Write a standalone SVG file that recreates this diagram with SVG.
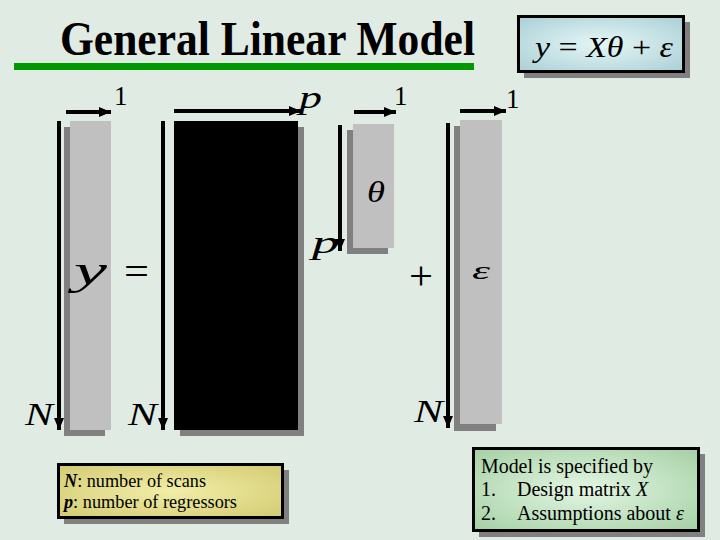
<svg xmlns="http://www.w3.org/2000/svg" width="720" height="540" viewBox="0 0 720 540">
<style>
.serif{font-family:"Liberation Serif","Times New Roman",serif;fill:#000}
.it{font-style:italic}
.light{fill:#c0c0c0}
.shadow{fill:#808080}
.arrow{stroke:#000;stroke-width:4;fill:none}
.box{stroke:#000;stroke-width:3}
</style>
<defs>
<marker id="ah" viewBox="0 0 12 10" refX="12" refY="5" markerWidth="12" markerHeight="10" markerUnits="userSpaceOnUse" orient="auto">
<path d="M0,0 L12,5 L0,10 Z" fill="#000"/>
</marker>
<radialGradient id="gBlue" cx="0.5" cy="0.5" r="0.7">
<stop offset="0" stop-color="#e6f6f6"/>
<stop offset="1" stop-color="#a9d0d6"/>
</radialGradient>
<radialGradient id="gYellow" cx="0.5" cy="0.5" r="0.7">
<stop offset="0" stop-color="#f2eea8"/>
<stop offset="1" stop-color="#d2ca72"/>
</radialGradient>
<radialGradient id="gGreen" cx="0.5" cy="0.5" r="0.7">
<stop offset="0" stop-color="#e4f6e4"/>
<stop offset="1" stop-color="#a4d0a4"/>
</radialGradient>
</defs>
<rect x="0" y="0" width="720" height="540" fill="#e0ebe3"/>

<g id="title">
<text class="serif" x="60" y="55" font-size="48" font-weight="bold" textLength="415" lengthAdjust="spacingAndGlyphs">General Linear Model</text>
<rect x="14" y="63" width="460" height="7" fill="#009a00"/>
</g>

<g id="formula">
<rect x="524" y="22" width="166" height="56" class="shadow"/>
<rect x="518.5" y="16.5" width="165" height="55" fill="url(#gBlue)" class="box"/>
<text class="serif" x="535" y="57" font-size="30" textLength="138" lengthAdjust="spacingAndGlyphs"><tspan class="it">y</tspan> = <tspan class="it">Xθ</tspan> + <tspan class="it">ε</tspan></text>
</g>

<g id="y-vector">
<rect x="64" y="127" width="41" height="309" class="shadow"/>
<rect x="70" y="121" width="41" height="309" class="light"/>
<text class="serif it" x="74" y="284" font-size="40" textLength="33" lengthAdjust="spacingAndGlyphs">y</text>
</g>

<g id="equals">
<text class="serif" x="124" y="284" font-size="38" textLength="25" lengthAdjust="spacingAndGlyphs">=</text>
</g>

<g id="X-matrix">
<rect x="180" y="127" width="124" height="309" class="shadow"/>
<rect x="174" y="121" width="124" height="309" fill="#000"/>
</g>

<g id="theta-vector">
<rect x="347" y="130" width="41" height="124" class="shadow"/>
<rect x="353" y="124" width="41" height="124" class="light"/>
<text class="serif it" x="367" y="202" font-size="29" textLength="18" lengthAdjust="spacingAndGlyphs">θ</text>
</g>

<g id="plus">
<text class="serif" x="409" y="289" font-size="40" textLength="24" lengthAdjust="spacingAndGlyphs">+</text>
</g>

<g id="epsilon-vector">
<rect x="454" y="126" width="42" height="305" class="shadow"/>
<rect x="460" y="120" width="42" height="304" class="light"/>
<text class="serif it" x="472" y="279" font-size="26" textLength="18" lengthAdjust="spacingAndGlyphs">ε</text>
</g>

<g id="connectors">
<line class="arrow" x1="59" y1="121" x2="59" y2="430" marker-end="url(#ah)"/>
<line class="arrow" x1="66" y1="112" x2="111" y2="112" marker-end="url(#ah)"/>
<line class="arrow" x1="163" y1="121" x2="163" y2="430" marker-end="url(#ah)"/>
<line class="arrow" x1="174" y1="111" x2="301" y2="111" marker-end="url(#ah)"/>
<line class="arrow" x1="340" y1="125" x2="340" y2="251" marker-end="url(#ah)"/>
<line class="arrow" x1="354" y1="112" x2="396" y2="112" marker-end="url(#ah)"/>
<line class="arrow" x1="448" y1="123" x2="448" y2="428" marker-end="url(#ah)"/>
<line class="arrow" x1="460" y1="111" x2="506" y2="111" marker-end="url(#ah)"/>
</g>

<g id="dimension-labels">
<text class="serif" x="114" y="105" font-size="27">1</text>
<text class="serif it" x="299" y="108" font-size="32" textLength="23" lengthAdjust="spacingAndGlyphs">p</text>
<text class="serif" x="394" y="105" font-size="27">1</text>
<text class="serif" x="506" y="108" font-size="27">1</text>
<text class="serif it" x="312" y="253" font-size="32" textLength="27" lengthAdjust="spacingAndGlyphs">p</text>
<text class="serif it" x="25" y="425" font-size="31" textLength="28" lengthAdjust="spacingAndGlyphs">N</text>
<text class="serif it" x="128" y="425" font-size="31" textLength="29" lengthAdjust="spacingAndGlyphs">N</text>
<text class="serif it" x="414" y="422" font-size="31" textLength="29" lengthAdjust="spacingAndGlyphs">N</text>
</g>

<g id="legend">
<rect x="64" y="470" width="225" height="54" class="shadow"/>
<rect x="58.5" y="464.5" width="224" height="53" fill="url(#gYellow)" class="box"/>
<text class="serif" x="64" y="487" font-size="18" textLength="142" lengthAdjust="spacingAndGlyphs"><tspan class="it" font-weight="bold">N</tspan>: number of scans</text>
<text class="serif" x="64" y="508" font-size="18" textLength="173" lengthAdjust="spacingAndGlyphs"><tspan class="it" font-weight="bold">p</tspan>: number of regressors</text>
</g>

<g id="model-note">
<rect x="479" y="454" width="226" height="83" class="shadow"/>
<rect x="473.5" y="448.5" width="225" height="82" fill="url(#gGreen)" class="box"/>
<text class="serif" x="481" y="473" font-size="20" textLength="172" lengthAdjust="spacingAndGlyphs">Model is specified by</text>
<text class="serif" x="481" y="496" font-size="20">1.</text>
<text class="serif" x="517" y="496" font-size="20">Design matrix <tspan class="it">X</tspan></text>
<text class="serif" x="481" y="520" font-size="20">2.</text>
<text class="serif" x="517" y="520" font-size="20">Assumptions about <tspan class="it">ε</tspan></text>
</g>
</svg>
